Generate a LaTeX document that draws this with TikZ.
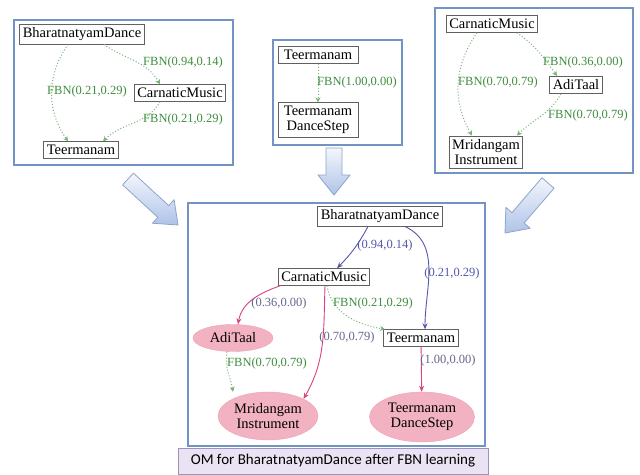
\documentclass[tikz,border=0pt]{standalone}
\usepackage{fontspec}
\setmainfont{Liberation Serif}
\newfontfamily\capfont{Carlito}
\usetikzlibrary{shapes.geometric,arrows.meta,calc}

\definecolor{framec}{HTML}{7393C4}
\definecolor{fbn}{HTML}{3E8E3E}
\definecolor{fbnline}{HTML}{79B279}
\definecolor{bluec}{HTML}{5656AA}
\definecolor{slatec}{HTML}{66668E}
\definecolor{pinkc}{HTML}{D8437F}
\definecolor{pinkfill}{HTML}{F3B2C2}
\definecolor{capfill}{HTML}{E9E3F3}
\definecolor{capdraw}{HTML}{9C92BA}
\definecolor{arrowlight}{HTML}{F3F6FC}
\definecolor{arrowdark}{HTML}{AFC3E8}
\definecolor{arrowedge}{HTML}{8EA5CA}
\definecolor{boxline}{HTML}{606060}

\tikzset{
  frame/.style={draw=framec, line width=1.3pt},
  rbox/.style={draw=boxline, fill=white, line width=0.8pt, inner xsep=3pt, inner ysep=3.5pt,
    align=center, font=\fontsize{14.5}{15}\selectfont},
  ell/.style={ellipse, fill=pinkfill, draw=pinkfill!85!pinkc, line width=0.4pt, inner sep=0pt,
    align=center, font=\fontsize{14.5}{15}\selectfont},
  fbnlab/.style={text=fbn, inner sep=1pt, font=\fontsize{12.5}{13}\selectfont},
  bluelab/.style={text=bluec, inner sep=1pt, font=\fontsize{12.5}{13}\selectfont},
  slatelab/.style={text=slatec, inner sep=1pt, font=\fontsize{12.5}{13}\selectfont},
  fbnedge/.style={draw=fbnline, line width=1pt, dotted, -{Stealth[length=5pt,width=5pt,fill=fbn!80!black]}},
  blueedge/.style={draw=bluec, line width=0.9pt, -{Stealth[length=6pt,width=5pt]}},
  pinkedge/.style={draw=pinkc, line width=0.9pt, -{Stealth[length=6pt,width=5pt]}},
  blockar/.style={draw=arrowedge, line width=0.8pt, line join=round, top color=arrowlight, bottom color=arrowdark},
  capbox/.style={draw=capdraw, fill=capfill, line width=0.8pt, minimum width=310pt, minimum height=26pt,
    inner sep=0pt, font=\capfont\fontsize{15}{16}\selectfont}
}

% wide hollow arrow from #1 (tail) to #2 (tip)
\newcommand\blockarrow[2]{%
  \coordinate (ba-h) at ($(#2)!20pt!(#1)$);
  \draw[blockar] ($(#1)!8pt!90:(#2)$) -- ($(ba-h)!8pt!90:(#2)$) -- ($(ba-h)!16pt!90:(#2)$)
    -- (#2) -- ($(ba-h)!16pt!-90:(#2)$) -- ($(ba-h)!8pt!-90:(#2)$) -- ($(#1)!8pt!-90:(#2)$) -- cycle;
}

\begin{document}
\begin{tikzpicture}[x=1pt,y=1pt]
\useasboundingbox[fill=white] (0,0) rectangle (640,-474);

% ---------- upper left fragment ----------
\draw[frame] (14,-20) rectangle (233,-165);
\node[rbox] (bd1) at (82,-34) {BharatnatyamDance};
\node[rbox] (cm1) at (180,-93) {CarnaticMusic};
\node[rbox] (tm1) at (81,-150) {Teermanam};
\draw[fbnedge] ([xshift=22pt]bd1.south) to[out=-35,in=120] ([xshift=-20pt]cm1.north);
\draw[fbnedge] ([xshift=-14pt]bd1.south) to[out=-125,in=125] ([xshift=-13pt]tm1.north);
\draw[fbnedge] ([xshift=-20pt]cm1.south) to[out=-120,in=45] ([xshift=22pt]tm1.north);
\node[fbnlab] (l1a) at (183,-62) {FBN(0.94,0.14)};
\node[fbnlab] (l1b) at (87,-91) {FBN(0.21,0.29)};
\node[fbnlab] (l1c) at (183,-119) {FBN(0.21,0.29)};

% ---------- upper middle fragment ----------
\draw[frame] (273,-40) rectangle (402,-145);
\node[rbox, minimum width=80pt] (tm2) at (318,-55) {Teermanam};
\node[rbox, minimum width=80pt] (ds2) at (318,-120) {Teermanam\\DanceStep};
\draw[fbnedge] (tm2) -- (ds2);
\node[fbnlab] (l2a) at (357,-82) {FBN(1.00,0.00)};

% ---------- upper right fragment ----------
\draw[frame] (435,-8) rectangle (633,-173);
\node[rbox] (cm3) at (492,-24) {CarnaticMusic};
\node[rbox] (at3) at (576,-85) {AdiTaal};
\node[rbox] (mi3) at (486,-152) {Mridangam\\Instrument};
\draw[fbnedge] ([xshift=25pt]cm3.south) to[out=-35,in=125] ([xshift=-19pt]at3.north);
\draw[fbnedge] ([xshift=-15pt]cm3.south) to[out=-125,in=120] ([xshift=-14pt]mi3.north);
\draw[fbnedge] ([xshift=-15pt]at3.south) to[out=-120,in=45] ([xshift=31pt]mi3.north);
\node[fbnlab] (l3a) at (583,-62) {FBN(0.36,0.00)};
\node[fbnlab] (l3b) at (498,-82) {FBN(0.70,0.79)};
\node[fbnlab] (l3c) at (588,-115) {FBN(0.70,0.79)};

% ---------- merging arrows ----------
\coordinate (aLt) at (128,-179); \coordinate (aLp) at (178,-225);
\coordinate (aMt) at (334,-148); \coordinate (aMp) at (334,-195);
\coordinate (aRt) at (548,-183); \coordinate (aRp) at (505,-233);
\blockarrow{aLt}{aLp}
\blockarrow{aMt}{aMp}
\blockarrow{aRt}{aRp}

% ---------- merged ontology ----------
\draw[frame] (188,-203) rectangle (485,-446);
\node[rbox] (bd) at (380,-216) {BharatnatyamDance};
\node[rbox] (cm) at (324,-277) {CarnaticMusic};
\node[rbox] (tm) at (421,-338) {Teermanam};
\node[ell, minimum width=80pt, minimum height=27pt] (at) at (233,-338) {AdiTaal};
\node[ell, minimum width=100pt, minimum height=48pt] (mi) at (268,-416) {Mridangam\\Instrument};
\node[ell, minimum width=105pt, minimum height=50pt] (ds) at (422,-417) {Teermanam\\DanceStep};

\draw[blueedge] ([xshift=-12pt]bd.south) to[bend left=8] ([xshift=13pt]cm.north);
\draw[blueedge] ([xshift=25pt]bd.south) to[out=-25,in=90] ([xshift=4pt]tm.north);
\draw[pinkedge] ([xshift=-44pt]cm.south) to[out=-160,in=80] ([xshift=5pt]at.north);
\draw[pinkedge] ([xshift=1pt]cm.south) to[out=-92,in=60] (mi.north east);
\draw[fbnedge] ([xshift=3pt]cm.south) to[out=-80,in=170] ([xshift=-36pt]tm.north);
\draw[fbnedge] ([xshift=-6pt]at.south) to[out=-100,in=100] ([xshift=-35pt]mi.north);
\draw[pinkedge] (tm) -- (ds);

\node[bluelab] (lb1) at (385,-245) {(0.94,0.14)};
\node[bluelab] (lb2) at (452,-273) {(0.21,0.29)};
\node[slatelab] (lp1) at (279,-303) {(0.36,0.00)};
\node[fbnlab] (lf1) at (373,-303) {FBN(0.21,0.29)};
\node[slatelab] (lp2) at (347,-337) {(0.70,0.79)};
\node[fbnlab] (lf2) at (267,-363) {FBN(0.70,0.79)};
\node[slatelab] (lp3) at (448,-360) {(1.00,0.00)};

\node[capbox] (cap) at (333,-461) {OM for BharatnatyamDance after FBN learning};
\end{tikzpicture}
\end{document}
